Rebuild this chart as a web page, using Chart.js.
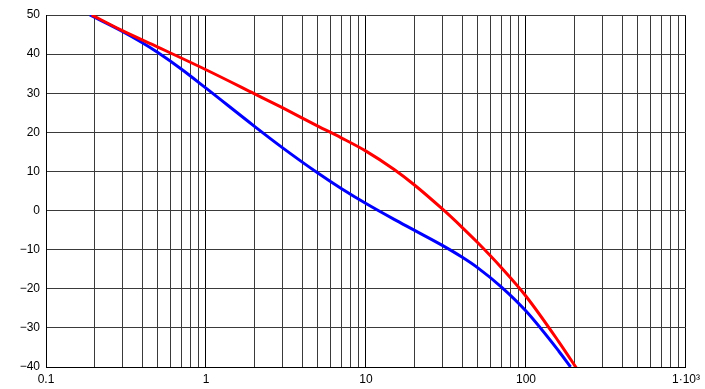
<!DOCTYPE html>
<html>
<head>
<meta charset="utf-8">
<script src="https://cdn.jsdelivr.net/npm/chart.js@4/dist/chart.umd.min.js"></script>
<style>
    html, body { margin: 0; padding: 0; background: #ffffff; }
    #grafico { display: block; }
</style>
</head>
<body>
<canvas id="grafico" width="705" height="389"></canvas>
<script>
// Valores (eixo x logarítmico)
const redX = [0.193, 0.3, 0.5, 1, 2, 3, 5, 7, 10, 15, 20, 30, 40, 50, 70, 100, 160, 210];
const redY = [50, 46.0, 41.8, 36.0, 29.9, 26.3, 21.6, 18.6, 15.2, 10.5, 6.6, 0.4, -4.35, -8.25, -14.55, -21.9, -33.5, -40.7];

const blueX = [0.188, 0.3, 0.4, 0.5, 0.7, 1, 2, 3, 5, 7, 10, 15, 20, 30, 40, 50, 70, 100, 160, 190];
const blueY = [50, 45.8, 42.9, 40.4, 36.2, 31.3, 21.6, 16.1, 9.6, 5.65, 1.8, -2.25, -5.0, -8.9, -11.95, -14.65, -19.5, -25.7, -35.9, -40.0];

// Linhas da grelha vertical e etiquetas das décadas
const gridX = [0.1, 0.2, 0.3, 0.4, 0.5, 0.6, 0.7, 0.8, 0.9,
               1, 2, 3, 4, 5, 6, 7, 8, 9,
               10, 20, 30, 40, 50, 60, 70, 80, 90,
               100, 200, 300, 400, 500, 600, 700, 800, 900, 1000];
const decadas = [0.1, 1, 10, 100, 1000];
const decadaLabels = ['0.1', '1', '10', '100', '1\u00b710\u00b3'];

const ticksY = [-40, -30, -20, -10, 0, 10, 20, 30, 40, 50];

function pontos(xs, ys) {
    return xs.map((x, i) => ({ x: x, y: ys[i] }));
}

const fonte = { family: "'Liberation Sans', Arial, sans-serif", size: 12 };

new Chart(document.getElementById('grafico'), {
    type: 'line',
    data: {
        datasets: [
            {
                data: pontos(redX, redY),
                borderColor: '#ff0000',
                borderWidth: 3,
                pointRadius: 0,
                cubicInterpolationMode: 'monotone'
            },
            {
                data: pontos(blueX, blueY),
                borderColor: '#0000ff',
                borderWidth: 3,
                pointRadius: 0,
                cubicInterpolationMode: 'monotone'
            }
        ]
    },
    options: {
        responsive: false,
        animation: false,
        events: [],
        layout: { padding: { top: 15, right: 19, left: 0, bottom: 0 } },
        plugins: { legend: { display: false }, tooltip: { enabled: false } },
        scales: {
            x: {
                type: 'logarithmic',
                min: 0.1,
                max: 1000,
                afterBuildTicks: function (scale) {
                    scale.ticks = gridX.map(v => ({ value: v }));
                },
                afterFit: function (scale) { scale.height = 22; },
                border: { color: '#000000', width: 1 },
                grid: {
                    drawTicks: false,
                    color: function (ctx) {
                        return decadas.includes(ctx.tick && ctx.tick.value) ? '#000000' : '#3a3a3a';
                    }
                },
                ticks: {
                    autoSkip: false,
                    maxRotation: 0,
                    padding: 5,
                    color: '#000000',
                    font: fonte,
                    callback: function (value) {
                        const i = decadas.indexOf(value);
                        return i >= 0 ? decadaLabels[i] : '';
                    }
                }
            },
            y: {
                min: -40,
                max: 50,
                afterBuildTicks: function (scale) {
                    scale.ticks = ticksY.map(v => ({ value: v }));
                },
                afterFit: function (scale) { scale.width = 46; },
                border: { color: '#000000', width: 1 },
                grid: { drawTicks: false, color: '#3a3a3a' },
                ticks: {
                    padding: 6,
                    color: '#000000',
                    font: fonte,
                    callback: function (value) {
                        return value < 0 ? '\u2212' + Math.abs(value) : String(value);
                    }
                }
            }
        }
    }
});
</script>
</body>
</html>
